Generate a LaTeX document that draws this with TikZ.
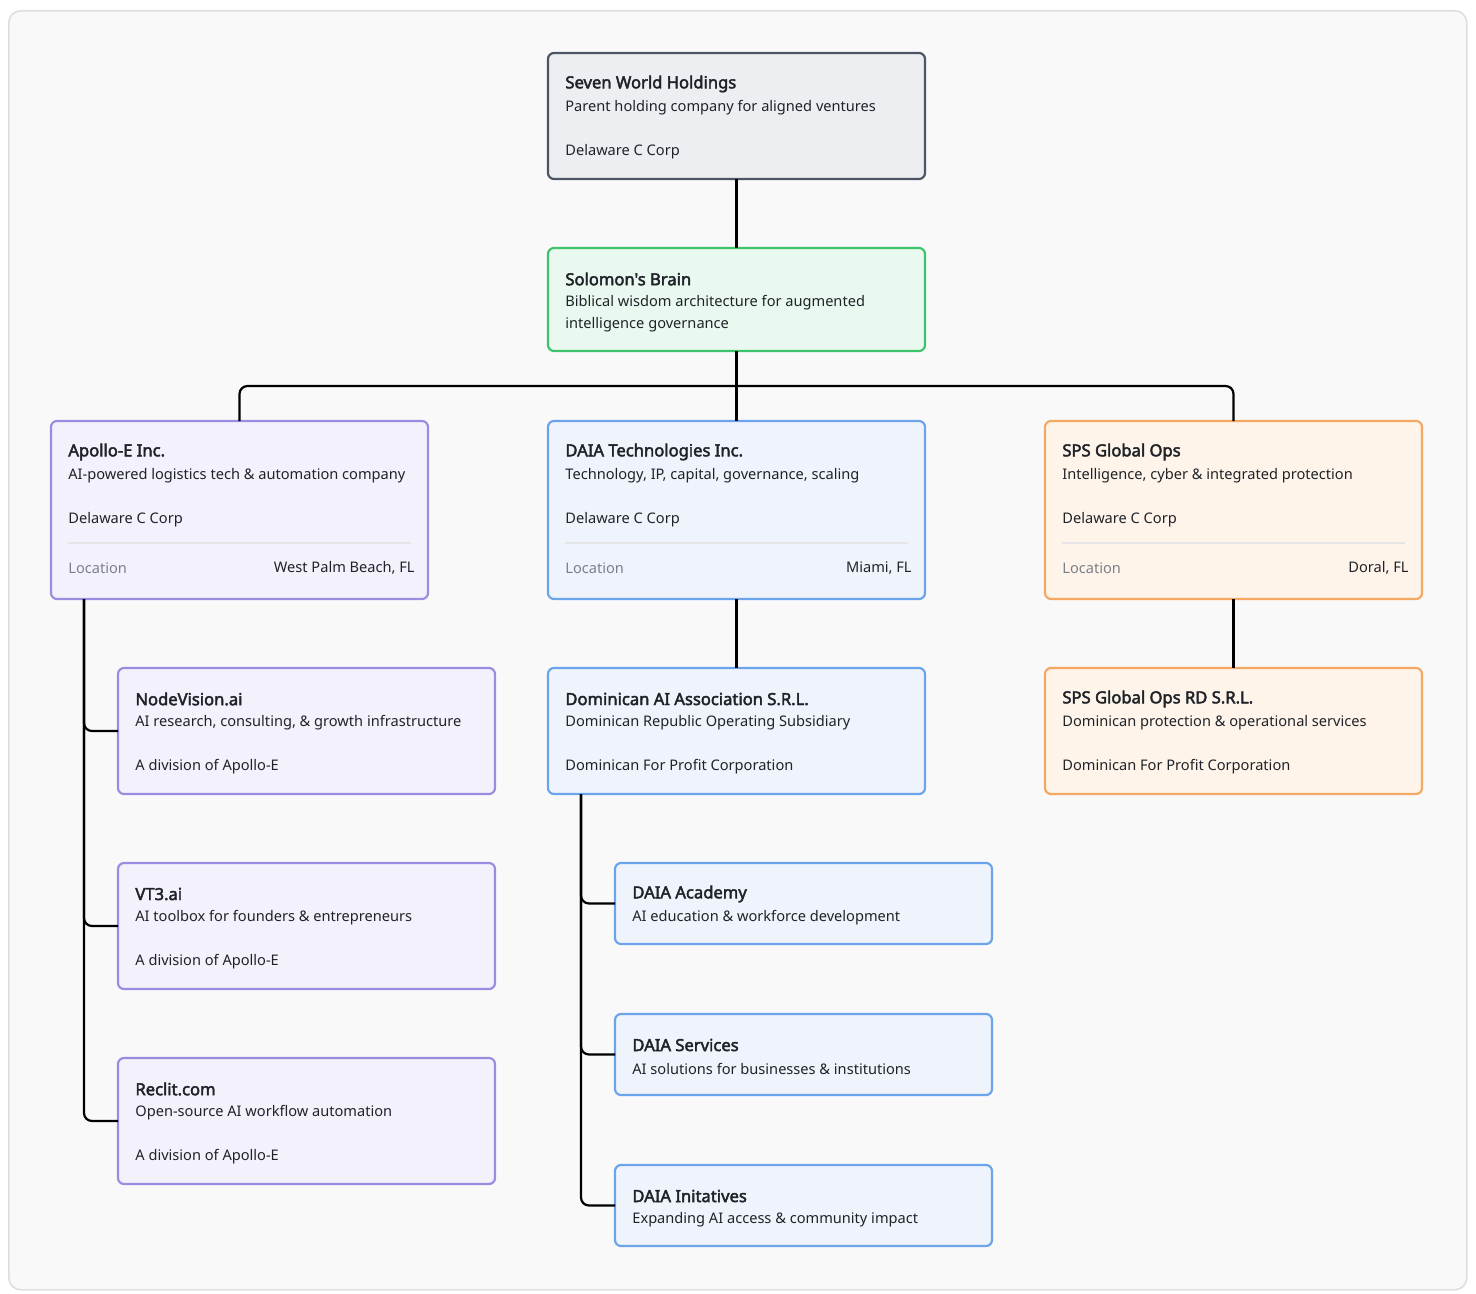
\documentclass[tikz,border=0pt]{standalone}
\usepackage{fontspec}
\setmainfont{Noto Sans}
\newfontfamily\tfont{Noto Sans}[FakeBold=2.6]
\definecolor{bgc}{HTML}{F9F9FA}
\definecolor{frm}{HTML}{DDDEE2}
\definecolor{gf}{HTML}{ECEEF1}\definecolor{gd}{HTML}{4B5563}
\definecolor{nf}{HTML}{E9F9EF}\definecolor{nd}{HTML}{3DC46B}
\definecolor{pf}{HTML}{F3F1FC}\definecolor{pd}{HTML}{9D8BE2}
\definecolor{bf}{HTML}{EFF4FC}\definecolor{bd}{HTML}{6BA4EB}
\definecolor{of}{HTML}{FEF4EA}\definecolor{od}{HTML}{F5A862}
\definecolor{txt}{HTML}{1F2328}\definecolor{mut}{HTML}{7A808A}
\begin{document}
\begin{tikzpicture}[x=0.5pt,y=-0.5pt,
 box/.style={draw,line width=1.1pt,rounded corners=3pt,inner sep=0,outer sep=0,anchor=north west,minimum width=188.5pt},
 gray/.style={box,fill=gf,draw=gd},green/.style={box,fill=nf,draw=nd},
 purp/.style={box,fill=pf,draw=pd},blue/.style={box,fill=bf,draw=bd},oran/.style={box,fill=of,draw=od},
 ttl/.style={anchor=west,inner sep=0,font=\fontsize{8.3}{10}\tfont,text=txt},
 bod/.style={anchor=west,inner sep=0,font=\fontsize{7.3}{9}\selectfont,text=txt},
 lab/.style={anchor=west,inner sep=0,font=\fontsize{7.3}{9}\selectfont,text=mut},
 val/.style={anchor=east,inner sep=0,font=\fontsize{7.3}{9}\selectfont,text=txt},
 con/.style={line width=1.1pt,draw=black,rounded corners=4pt}]
\useasboundingbox (0,0) rectangle (1476,1294);
\node[draw=frm,fill=bgc,line width=0.8pt,rounded corners=6pt,inner sep=0,anchor=north west,minimum width=729pt,minimum height=639.5pt] (frame) at (8,10) {};
\coordinate (bus) at (736.5,386);
\node[gray,minimum height=63pt] (sw) at (548,53) {};
\node[green,minimum height=51.5pt] (sb) at (548,248) {};
\node[purp,minimum height=89pt] (ap) at (51,421) {};
\node[blue,minimum height=89pt] (da) at (548,421) {};
\node[oran,minimum height=89pt] (sp) at (1045,421) {};
\node[purp,minimum height=63pt] (nv) at (118,668) {};
\node[purp,minimum height=63pt] (vt) at (118,863) {};
\node[purp,minimum height=63pt] (rc) at (118,1058) {};
\node[blue,minimum height=63pt] (dm) at (548,668) {};
\node[oran,minimum height=63pt] (sr) at (1045,668) {};
\node[blue,minimum height=40.5pt] (ac) at (615,863) {};
\node[blue,minimum height=40.5pt] (sv) at (615,1014) {};
\node[blue,minimum height=40.5pt] (in) at (615,1165) {};
\draw[con] (sw.south) -- (sb.north);
\draw[con] (sb.south) -- (bus);
\draw[con] (bus) -| (ap.north);
\draw[con] (bus) -| (sp.north);
\draw[con] (bus) -- (da.north);
\draw[con] (da.south) -- (dm.north);
\draw[con] (sp.south) -- (sr.north);
\coordinate (at) at ([xshift=16.5pt]ap.south west);
\draw[con] (at) |- (nv.west);
\draw[con] (at) |- (vt.west);
\draw[con] (at) |- (rc.west);
\coordinate (dt) at ([xshift=16.5pt]dm.south west);
\draw[con] (dt) |- (ac.west);
\draw[con] (dt) |- (sv.west);
\draw[con] (dt) |- (in.west);
\node[ttl] (t1) at ([shift={(17,31)}]sw.north west) {Seven World Holdings};
\node[bod] (t2) at ([shift={(17,55)}]sw.north west) {Parent holding company for aligned ventures};
\node[bod] (t3) at ([shift={(17,99)}]sw.north west) {Delaware C Corp};
\node[ttl] (s1) at ([shift={(17,31)}]sb.north west) {Solomon{\char"0027}s Brain};
\node[bod] (s2) at ([shift={(17,55)}]sb.north west) {Biblical wisdom architecture for augmented};
\node[bod] (s3) at ([shift={(17,77)}]sb.north west) {intelligence governance};
\foreach \n/\a/\b/\c in {ap/Apollo-E Inc./AI-powered logistics tech \& automation company/{West Palm Beach, FL},
  da/DAIA Technologies Inc./{Technology, IP, capital, governance, scaling}/{Miami, FL},
  sp/SPS Global Ops/{Intelligence, cyber \& integrated protection}/{Doral, FL}}{
 \node[ttl] (\n1) at ([shift={(17,31)}]\n.north west) {\a};
 \node[bod] (\n2) at ([shift={(17,55)}]\n.north west) {\b};
 \node[bod] (\n3) at ([shift={(17,99)}]\n.north west) {Delaware C Corp};
 \draw[draw=black!10,line width=0.6pt] ([shift={(17,122)}]\n.north west) coordinate (\n l) -- ([shift={(-17,122)}]\n.north east) coordinate (\n r);
 \node[lab] (\n4) at ([shift={(17,147)}]\n.north west) {Location};
 \node[val] (\n5) at ([shift={(-13,147)}]\n.north east) {\c};
}
\foreach \n/\a/\b/\c in {nv/NodeVision.ai/{AI research, consulting, \& growth infrastructure}/A division of Apollo-E,
  vt/VT3.ai/AI toolbox for founders \& entrepreneurs/A division of Apollo-E,
  rc/Reclit.com/Open-source AI workflow automation/A division of Apollo-E,
  dm/Dominican AI Association S.R.L./Dominican Republic Operating Subsidiary/Dominican For Profit Corporation,
  sr/SPS Global Ops RD S.R.L./Dominican protection \& operational services/Dominican For Profit Corporation}{
 \node[ttl] (\n1) at ([shift={(17,31)}]\n.north west) {\a};
 \node[bod] (\n2) at ([shift={(17,55)}]\n.north west) {\b};
 \node[bod] (\n3) at ([shift={(17,99)}]\n.north west) {\c};
}
\foreach \n/\a/\b in {ac/DAIA Academy/AI education \& workforce development,
  sv/DAIA Services/AI solutions for businesses \& institutions,
  in/DAIA Initatives/Expanding AI access \& community impact}{
 \node[ttl] (\n1) at ([shift={(17,31)}]\n.north west) {\a};
 \node[bod] (\n2) at ([shift={(17,55)}]\n.north west) {\b};
}
\end{tikzpicture}
\end{document}
